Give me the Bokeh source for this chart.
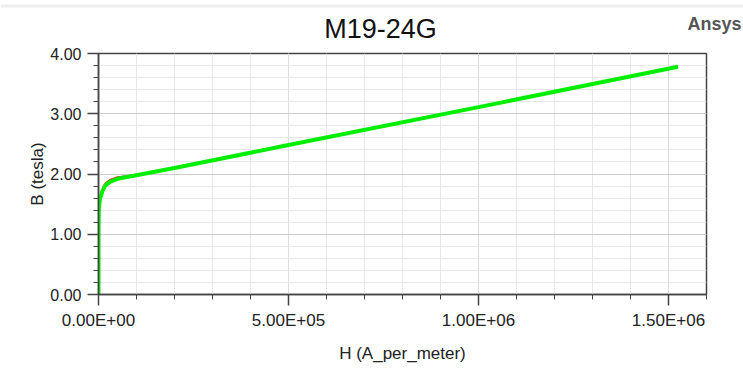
from bokeh.plotting import figure
from bokeh.layouts import column
from bokeh.models import (Range1d, FixedTicker, CustomJSTickFormatter, NumeralTickFormatter,
                          Label, Span)
from bokeh.embed import file_html
from bokeh.resources import INLINE

# ---- data ----
h_fit = [0, 100, 200, 500, 1000, 2000, 4000, 7000, 10000, 15000, 20000, 30000,
         50000, 100000, 200000, 500000, 1000000, 1525000]
b_fit = [0.0, 0.8, 1.05, 1.3, 1.42, 1.5, 1.58, 1.65, 1.71, 1.78, 1.82, 1.87,
         1.92, 1.98, 2.1, 2.48, 3.11, 3.78]
h_meas = [0, 100, 200, 500, 1000, 2000, 4000, 7000, 10000, 15000, 20000, 30000,
          50000, 100000, 200000, 500000, 1000000, 1525000]
b_meas = [0.0, 0.8, 1.05, 1.3, 1.42, 1.5, 1.58, 1.66, 1.73, 1.81, 1.855, 1.9,
          1.945, 1.985, 2.1, 2.48, 3.11, 3.78]

x_ticks = [0, 500000, 1000000, 1500000]
y_ticks = [0, 1, 2, 3, 4]
x_minor = [i * 100000 for i in range(0, 17)]
y_minor = [i * 0.2 for i in range(0, 21)]

title_text = "M19-24G"
brand_text = "Ansys"
x_label = "H (A_per_meter)"
y_label = "B (tesla)"

FONT = "Liberation Sans"
W = 743

# ---- header strip (title + brand) ----
top = figure(width=W, height=43, output_backend="svg", toolbar_location=None,
             x_range=Range1d(0, W), y_range=Range1d(43, 0),
             x_axis_location=None, y_axis_location=None,
             min_border_left=0, min_border_right=0, min_border_top=0, min_border_bottom=0)
top.frame_align = False
top.outline_line_color = None
top.grid.visible = False
top.background_fill_color = "white"
top.border_fill_color = "white"
top.add_layout(Span(location=5.5, dimension="width", line_color="#eeeeee", line_width=3))
top.add_layout(Label(x=380, y=28.5, text=title_text, text_align="center",
                     text_baseline="alphabetic", text_font=FONT, text_font_size="27px",
                     text_color="#111111"))
top.add_layout(Label(x=741, y=23.7, text=brand_text, text_align="right",
                     text_baseline="alphabetic", text_font=FONT, text_font_size="18px",
                     text_font_style="bold", text_color="#555555"))

# ---- main chart ----
p = figure(width=W, height=322, output_backend="svg", toolbar_location=None,
           x_range=Range1d(0, 1600000), y_range=Range1d(0, 4),
           min_border_left=98, min_border_right=37, min_border_top=10, min_border_bottom=67)
p.frame_align = False
p.background_fill_color = "white"
p.border_fill_color = "white"
p.outline_line_color = "#444444"
p.outline_line_width = 1.5

for ax in (p.xaxis[0], p.yaxis[0]):
    ax.axis_line_color = "#444444"
    ax.axis_line_width = 1.5
    ax.major_tick_line_color = "#444444"
    ax.minor_tick_line_color = "#444444"
    ax.major_tick_line_width = 1.5
    ax.minor_tick_line_width = 1
    ax.major_tick_out = 11
    ax.major_tick_in = 0
    ax.minor_tick_out = 5
    ax.minor_tick_in = 0
    ax.major_label_text_font = FONT
    ax.major_label_text_color = "#222222"
    ax.axis_label_text_font = FONT
    ax.axis_label_text_font_size = "17px"
    ax.axis_label_text_font_style = "normal"
    ax.axis_label_text_color = "#222222"
    ax.major_label_standoff = 6

p.xaxis.major_label_text_font_size = "17px"
p.yaxis.major_label_text_font_size = "16px"
p.xaxis.major_label_standoff = 5
p.xaxis.ticker = FixedTicker(ticks=x_ticks, minor_ticks=x_minor)
p.yaxis.ticker = FixedTicker(ticks=y_ticks, minor_ticks=y_minor)
p.xaxis.formatter = CustomJSTickFormatter(code="""
    const s = tick.toExponential(2).split('e');
    const e = parseInt(s[1]);
    return s[0] + 'E' + (e < 0 ? '-' : '+') + String(Math.abs(e)).padStart(2, '0');
""")
p.yaxis.formatter = NumeralTickFormatter(format="0.00")
p.xaxis.axis_label = x_label
p.yaxis.axis_label = y_label
p.xaxis.axis_label_standoff = 11
p.yaxis.axis_label_standoff = 0

p.xgrid.grid_line_color = "#dddddd"
p.xgrid.minor_grid_line_color = "#e8e8e8"
p.ygrid.grid_line_color = "#cccccc"
p.ygrid.minor_grid_line_color = "#e8e8e8"

p.line(h_meas, b_meas, line_color="#ff2020", line_width=2)
p.line(h_fit, b_fit, line_color="#00ee00", line_width=4)

# ---- bottom strip ----
band = figure(width=W, height=5, output_backend="svg", toolbar_location=None,
              x_axis_location=None, y_axis_location=None,
              min_border_left=0, min_border_right=0, min_border_top=0, min_border_bottom=0)
band.frame_align = False
band.outline_line_color = None
band.grid.visible = False
band.background_fill_color = "#eeeeee"
band.border_fill_color = "#eeeeee"

layout = column(top, p, band, spacing=0)
open("out.html", "w").write(file_html(layout, INLINE))
